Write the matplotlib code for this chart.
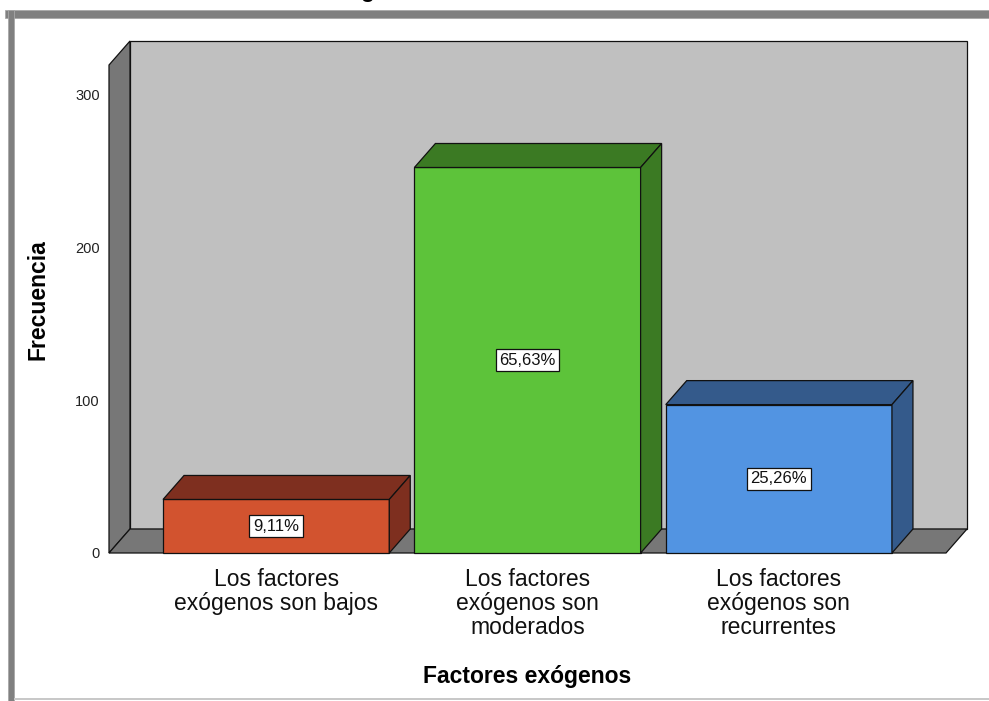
import matplotlib.pyplot as plt
from matplotlib.patches import Polygon, Rectangle

# datos
categorias = ["Los factores\nexógenos son bajos",
              "Los factores\nexógenos son\nmoderados",
              "Los factores\nexógenos son\nrecurrentes"]
frecuencias = [35, 252, 97]
porcentajes = ["9,11%", "65,63%", "25,26%"]
colores_frente = ["#d2532f", "#5dc33a", "#5294e2"]
colores_sombra = ["#7e2f1f", "#3b7a23", "#345a8b"]
yticks = [0, 100, 200, 300]

plt.rcParams['font.family'] = ['Liberation Sans', 'DejaVu Sans']

W, H = 989, 701
fig = plt.figure(figsize=(W / 100, H / 100), dpi=100)

# marco exterior (recortado)
fig.add_artist(Rectangle((5 / W, (H - 18) / H), 1, 8 / H, transform=fig.transFigure,
                         facecolor='#808080', edgecolor='#a8a8a8', lw=0.6))
fig.add_artist(Rectangle((8 / W, -0.01), 6 / W, (H - 10) / H + 0.01, transform=fig.transFigure,
                         facecolor='#808080', edgecolor='#a8a8a8', lw=0.6))
fig.add_artist(Rectangle((14 / W, 1 / H), 1, 2 / H, transform=fig.transFigure,
                         facecolor='#c8c8c8', edgecolor='none'))
# titulo cortado arriba (solo asoma la cola de la g)
fig.text(220 / W, (H + 3.5) / H, "Factores exógenos", fontsize=16.5,
         fontweight='bold', ha='left', va='baseline')

ax = fig.add_axes([109 / W, (H - 553) / H, (946 - 109) / W, (553 - 65) / H])
x0, x1 = -0.665, 2.665
ymax = 319
ax.set_xlim(x0, x1)
ax.set_ylim(0, ymax)

# profundidad 3D
dx = 21 / 251.35
dy = 24 / 1.53
ec = '#111111'
lw = 0.9

# paredes
ax.add_patch(Polygon([(x0 + dx, dy), (x1 + dx, dy), (x1 + dx, ymax + dy), (x0 + dx, ymax + dy)],
                     closed=True, facecolor='#c0c0c0', edgecolor=ec, lw=lw, clip_on=False, zorder=1))
ax.add_patch(Polygon([(x0, 0), (x0 + dx, dy), (x0 + dx, ymax + dy), (x0, ymax)],
                     closed=True, facecolor='#777777', edgecolor=ec, lw=lw, clip_on=False, zorder=1))
ax.add_patch(Polygon([(x0, 0), (x1, 0), (x1 + dx, dy), (x0 + dx, dy)],
                     closed=True, facecolor='#777777', edgecolor=ec, lw=lw, clip_on=False, zorder=1))

# barras
w = 0.9
for i, v in enumerate(frecuencias):
    l, r = i - w / 2, i + w / 2
    ax.add_patch(Polygon([(l, 0), (r, 0), (r, v), (l, v)], closed=True,
                         facecolor=colores_frente[i], edgecolor=ec, lw=lw, clip_on=False, zorder=3))
    ax.add_patch(Polygon([(l, v), (r, v), (r + dx, v + dy), (l + dx, v + dy)], closed=True,
                         facecolor=colores_sombra[i], edgecolor=ec, lw=lw, clip_on=False, zorder=3))
    ax.add_patch(Polygon([(r, 0), (r + dx, dy), (r + dx, v + dy), (r, v)], closed=True,
                         facecolor=colores_sombra[i], edgecolor=ec, lw=lw, clip_on=False, zorder=3))
    ax.text(i, v / 2, porcentajes[i], ha='center', va='center', fontsize=12, color='#111111',
            zorder=4, bbox=dict(boxstyle='square,pad=0.22', facecolor='white', edgecolor=ec, lw=0.9))

for s in ax.spines.values():
    s.set_visible(False)
ax.set_yticks(yticks)
ax.set_xticks(range(len(categorias)))
ax.set_xticklabels(categorias, fontsize=16.5, linespacing=1.05, color='#111111')
ax.tick_params(axis='y', length=0, pad=6.5, labelsize=10.5, labelcolor='#222222')
ax.tick_params(axis='x', length=0, pad=11)
ax.set_ylabel("Frecuencia", fontsize=16.5, fontweight='bold')
ax.set_xlabel("Factores exógenos", fontsize=16.5, fontweight='bold', labelpad=19)
ax.yaxis.set_label_coords(-60 / 837, (553 - 300) / 488)

fig.savefig('out.png', dpi=100)
